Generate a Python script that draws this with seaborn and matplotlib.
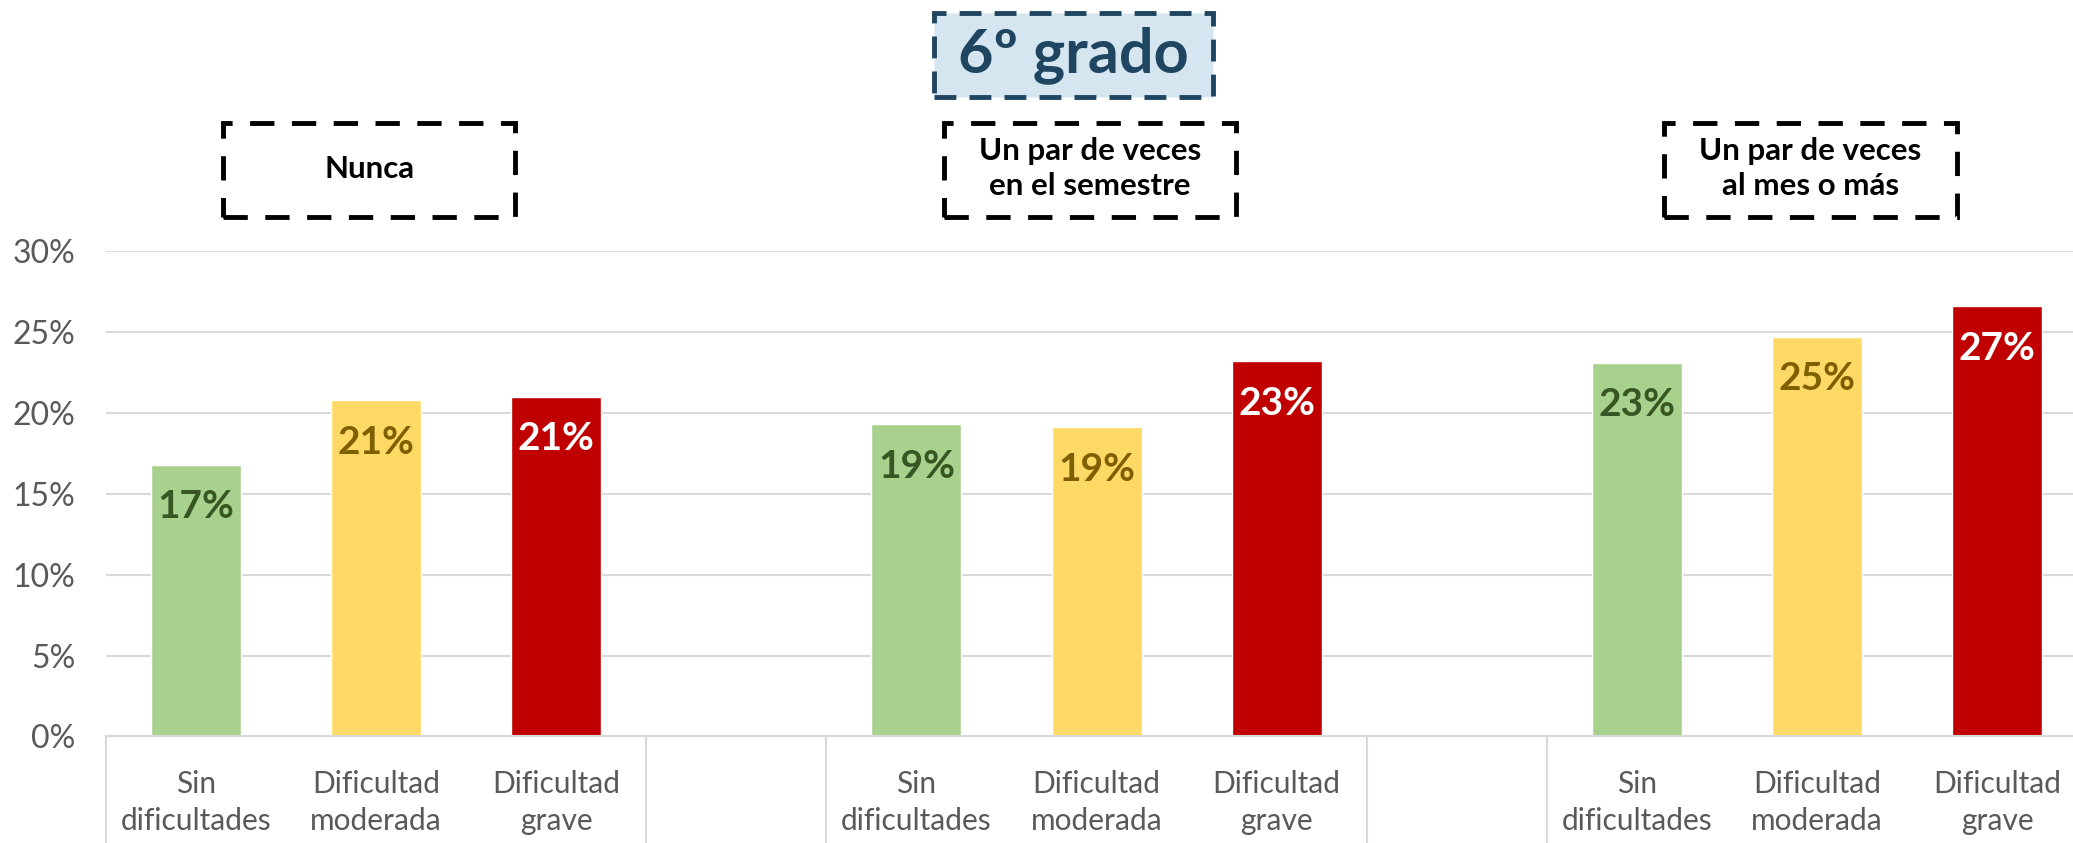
import pandas as pd
import matplotlib.pyplot as plt
import seaborn as sns
from matplotlib.patches import FancyBboxPatch

# datos
frecuencias = ['Nunca', 'Un par de veces\nen el semestre', 'Un par de veces\nal mes o más']
niveles = ['Sin\ndificultades', 'Dificultad\nmoderada', 'Dificultad\ngrave']
sin_dif = [0.168, 0.193, 0.231]
moderada = [0.208, 0.191, 0.247]
grave = [0.210, 0.232, 0.266]
etiquetas = [['17%', '21%', '21%'], ['19%', '19%', '23%'], ['23%', '25%', '27%']]

colores = {'Sin\ndificultades': '#A9D18E', 'Dificultad\nmoderada': '#FFD966', 'Dificultad\ngrave': '#C00000'}
colores_txt = {'Sin\ndificultades': '#375623', 'Dificultad\nmoderada': '#7F6000', 'Dificultad\ngrave': '#FFFFFF'}

filas = []
orden = []
for i, f in enumerate(frecuencias):
    for j, (n, v) in enumerate(zip(niveles, [sin_dif[i], moderada[i], grave[i]])):
        clave = f'{i}-{j}'
        filas.append({'slot': clave, 'nivel': n, 'valor': v, 'txt': etiquetas[i][j]})
        orden.append(clave)
    if i < len(frecuencias) - 1:
        orden.append(f'vacio{i}')
df = pd.DataFrame(filas)

sns.set_style('white')
plt.rcParams['font.family'] = ['Lato', 'DejaVu Sans']

fig = plt.figure(figsize=(20.73, 8.43), dpi=100)
ax = fig.add_axes([0.051, 0.1265, 0.949, 0.5755])

sns.barplot(data=df, x='slot', y='valor', hue='nivel', order=orden, palette=colores,
            dodge=False, legend=False, width=0.5, saturation=1, ax=ax)

ax.set_ylim(0, 0.30)
ax.set_xlim(-0.5, 10.42)
ax.set_yticks([0, 0.05, 0.10, 0.15, 0.20, 0.25, 0.30])
ax.set_yticklabels(['0%', '5%', '10%', '15%', '20%', '25%', '30%'], fontsize=23, color='#595959')
ax.yaxis.grid(True, color='#D9D9D9', linewidth=1.5)
ax.set_axisbelow(True)
for s in ['left', 'right', 'top']:
    ax.spines[s].set_visible(False)
ax.spines['bottom'].set_color('#D9D9D9')
ax.spines['bottom'].set_linewidth(1.5)
ax.tick_params(axis='y', length=0, pad=22)
ax.set_xlabel('')
ax.set_ylabel('')

pos = [orden.index(s) for s in df['slot']]
ax.set_xticks(pos)
ax.set_xticklabels(df['nivel'], fontsize=21.5, color='#595959', linespacing=1.4)
ax.tick_params(axis='x', which='major', length=0, pad=24)
ax.set_xticks([-0.5, 2.5, 3.5, 6.5, 7.5], minor=True)
ax.tick_params(axis='x', which='minor', bottom=True, length=80, width=1.5,
               color='#D9D9D9', direction='out')

# etiquetas de datos dentro de las barras
for p, (_, r) in zip(pos, df.iterrows()):
    ax.text(p, r['valor'] - 0.026, r['txt'], ha='center', va='center', fontsize=28,
            fontweight='bold', color=colores_txt[r['nivel']])

# cajas de frecuencia
for i, f in enumerate(frecuencias):
    xc = orden.index(f'{i}-1')
    xf = ax.transData.transform((xc, 0))[0] / fig.bbox.width - 0.0032
    fig.text(xf, 0.80, f, ha='center', va='center', fontsize=22.5, fontweight='bold',
             color='black', linespacing=1.3)
    caja = FancyBboxPatch((xf - 0.0705, 0.743), 0.141, 0.111, boxstyle='square,pad=0',
                          transform=fig.transFigure, fill=False, edgecolor='black',
                          linewidth=3.5, linestyle=(0, (5, 3.6)))
    fig.add_artist(caja)

# titulo
fig.text(0.5178, 0.935, '6º grado', ha='center', va='center', fontsize=44, fontweight='bold',
         color='#1F4560')
fig.add_artist(FancyBboxPatch((0.4505, 0.885), 0.1345, 0.099, boxstyle='square,pad=0',
                              transform=fig.transFigure, facecolor='#D6E6F0', edgecolor='#1F4560',
                              linewidth=3.5, linestyle=(0, (4.5, 2.7)), zorder=0))

plt.savefig('out.png', dpi=100)
